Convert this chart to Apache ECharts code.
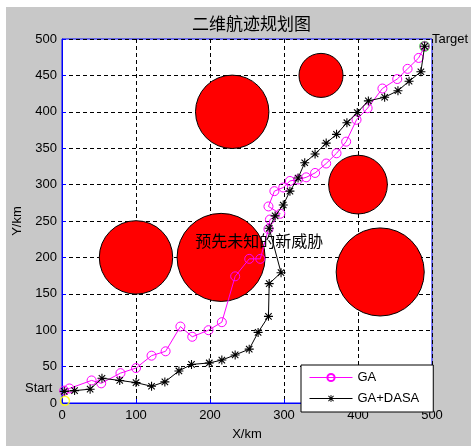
<!DOCTYPE html>
<html>
<head>
<meta charset="utf-8">
<script src="https://cdn.jsdelivr.net/npm/echarts@6/dist/echarts.min.js"></script>
<style>
html,body{margin:0;padding:0;background:#fff}
#main{width:471px;height:446px}
</style>
</head>
<body>
<div id="main"></div>
<script>
// GA path
var gaX = [3, 10, 40, 53, 79, 100, 121, 140, 160, 176, 198, 216, 234, 253, 268, 279, 281, 295, 279, 287, 299, 308, 319, 330, 342, 357, 371, 384, 398, 413, 433, 453, 467, 482, 490];
var gaY = [17, 20, 31, 27, 41, 48, 65, 71, 105, 91, 100, 111, 174, 198, 198, 239, 252, 260, 270, 291, 296, 305, 307, 310, 316, 329, 343, 359, 389, 405, 432, 445, 459, 474, 490];
// GA+DASA path
var dasaX = [3, 17, 38, 54, 78, 100, 121, 139, 158, 175, 199, 216, 234, 253, 265, 279, 280, 296, 280, 288, 299, 308, 319, 328, 342, 357, 371, 385, 399, 414, 436, 454, 469, 485, 490];
var dasaY = [16, 17, 19, 34, 31, 28, 23, 29, 44, 53, 55, 59, 66, 74, 97, 119, 164, 179, 240, 257, 272, 291, 309, 330, 342, 357, 369, 385, 399, 415, 420, 429, 442, 455, 490];
// threats: centre + radius (km)
var threatX = [100, 215, 230, 350, 400, 430];
var threatY = [200, 200, 400, 450, 300, 180];
var threatR = [50, 60, 50, 30, 40, 60];
// start / target
var startPt = [4, 3];
var targetPt = [490, 490];
// text notes
var noteText = ['Start', 'Target', '预先未知的新威胁'];
var noteX = [-50, 500, 180];
var noteY = [20, 500, 220];
var noteSize = [13, 13, 16];

var font = "'Liberation Sans', Arial, 'Noto Sans CJK SC', sans-serif";

function zip(a, b) {
    var out = [];
    for (var i = 0; i < a.length; i++) out.push([a[i], b[i]]);
    return out;
}

var starPath = 'path://M4.4 0h1.2v10h-1.2z M0 4.4h10v1.2h-10z M1 1.85 l0.85 -0.85 7.15 7.15 -0.85 0.85z M8.15 1 l0.85 0.85 -7.15 7.15 -0.85 -0.85z';

var threatData = [];
for (var i = 0; i < threatX.length; i++) threatData.push([threatX[i], threatY[i], threatR[i]]);
var noteData = [];
for (var j = 0; j < noteText.length; j++) noteData.push([noteX[j], noteY[j], j]);

var myChart = echarts.init(document.getElementById('main'));
var option = {
    animation: false,
    backgroundColor: '#fff',
    graphic: [{
        type: 'rect', z: -10, silent: true,
        shape: {x: 6, y: 7, width: 471, height: 446},
        style: {fill: '#c8c8c8'}
    }],
    title: {
        text: '二维航迹规划图',
        left: 187, top: 12,
        textStyle: {fontSize: 17, fontWeight: 'normal', color: '#000', fontFamily: font}
    },
    grid: {
        left: 62, right: 39, top: 39, bottom: 36,
        show: true, backgroundColor: '#fff', borderColor: '#0000ff', borderWidth: 1
    },
    legend: {
        orient: 'vertical', left: 301, top: 365,
        backgroundColor: '#fff', borderColor: '#000', borderWidth: 1, borderRadius: 0,
        padding: [6, 14, 7, 8], itemWidth: 43, itemHeight: 9, itemGap: 8,
        lineStyle: {width: 1},
        textStyle: {fontSize: 13, color: '#000', fontFamily: font},
        data: ['GA', 'GA+DASA']
    },
    xAxis: {
        type: 'value', min: 0, max: 500, interval: 100,
        name: 'X/km', nameLocation: 'middle', nameGap: 25,
        nameTextStyle: {fontSize: 13, color: '#000', fontFamily: font},
        axisLine: {show: true, lineStyle: {color: '#0000ff'}},
        axisTick: {show: true, inside: true, length: 4, lineStyle: {color: '#0000ff'}},
        axisLabel: {margin: 6, fontSize: 13, color: '#000', fontFamily: font},
        splitLine: {show: true, lineStyle: {color: '#000', type: [4, 3], width: 1}}
    },
    yAxis: {
        type: 'value', min: 0, max: 500, interval: 50,
        name: 'Y/km', nameLocation: 'middle', nameGap: 38,
        nameTextStyle: {fontSize: 13, color: '#000', fontFamily: font},
        axisLine: {show: true, lineStyle: {color: '#0000ff'}},
        axisTick: {show: true, inside: true, length: 4, lineStyle: {color: '#0000ff'}},
        axisLabel: {margin: 5, fontSize: 13, color: '#000', fontFamily: font},
        splitLine: {show: true, lineStyle: {color: '#000', type: [4, 3], width: 1}}
    },
    series: [{
        name: 'threats',
        type: 'custom',
        z: 1,
        data: threatData,
        renderItem: function (params, api) {
            var c = api.coord([api.value(0), api.value(1)]);
            var s = api.size([api.value(2), api.value(2)]);
            return {
                type: 'circle',
                shape: {cx: c[0], cy: c[1], r: (s[0] + s[1]) / 2},
                style: {fill: '#ff0000', stroke: '#000', lineWidth: 1}
            };
        }
    }, {
        name: 'GA',
        type: 'line',
        z: 3,
        data: zip(gaX, gaY),
        symbol: 'circle', symbolSize: 9, showAllSymbol: true,
        itemStyle: {color: 'rgba(0,0,0,0)', borderColor: '#ff00ff', borderWidth: 1},
        lineStyle: {color: '#ff00ff', width: 1}
    }, {
        name: 'GA+DASA',
        type: 'line',
        z: 4,
        data: zip(dasaX, dasaY),
        symbol: starPath, symbolSize: 9, showAllSymbol: true,
        itemStyle: {color: '#000'},
        lineStyle: {color: '#000', width: 1}
    }, {
        name: 'start',
        type: 'scatter',
        z: 5,
        data: [startPt],
        symbol: 'circle', symbolSize: 9,
        itemStyle: {color: 'rgba(0,0,0,0)', borderColor: '#ffff00', borderWidth: 1.5}
    }, {
        name: 'target',
        type: 'scatter',
        z: 2,
        data: [targetPt],
        symbol: 'circle', symbolSize: 9,
        itemStyle: {color: 'rgba(0,0,0,0)', borderColor: '#00ff00', borderWidth: 2}
    }, {
        name: 'notes',
        type: 'custom',
        z: 6,
        clip: false,
        data: noteData,
        renderItem: function (params, api) {
            var c = api.coord([api.value(0), api.value(1)]);
            var k = api.value(2);
            return {
                type: 'text',
                x: c[0], y: c[1],
                style: {
                    text: noteText[k], fill: '#000',
                    fontSize: noteSize[k], fontFamily: font,
                    align: 'left', verticalAlign: 'middle'
                }
            };
        }
    }]
};
myChart.setOption(option);
</script>
</body>
</html>
